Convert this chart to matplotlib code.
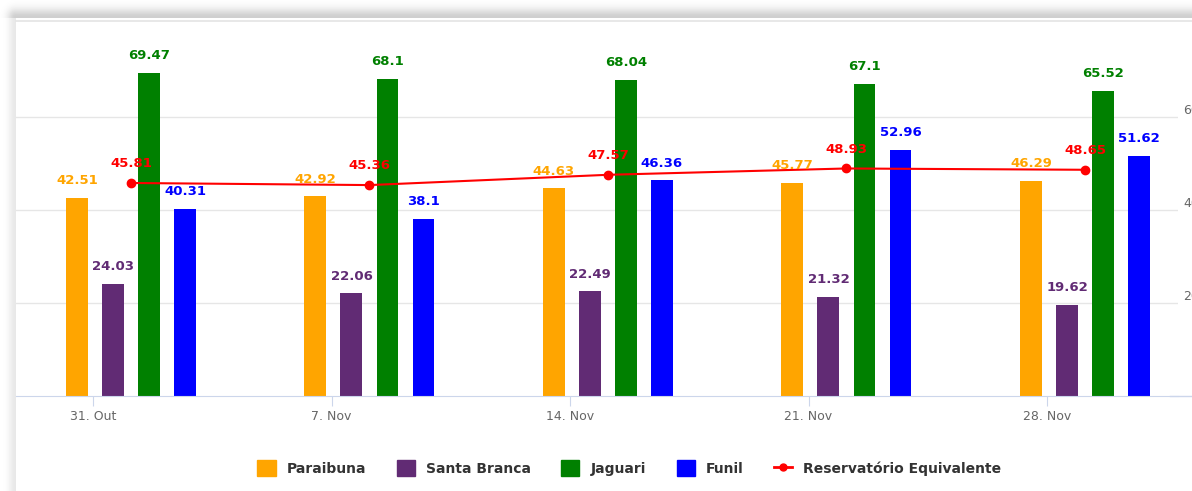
import numpy as np
import matplotlib.pyplot as plt
from matplotlib.patches import Patch
from matplotlib.lines import Line2D

# data
dates = ['31. Out', '7. Nov', '14. Nov', '21. Nov', '28. Nov']
paraibuna = [42.51, 42.92, 44.63, 45.77, 46.29]
santa_branca = [24.03, 22.06, 22.49, 21.32, 19.62]
jaguari = [69.47, 68.1, 68.04, 67.1, 65.52]
funil = [40.31, 38.1, 46.36, 52.96, 51.62]
equivalente = [45.81, 45.36, 47.57, 48.93, 48.65]

bar_series = [
    ('Paraibuna', paraibuna, '#FFA500'),
    ('Santa Branca', santa_branca, '#612B74'),
    ('Jaguari', jaguari, '#008000'),
    ('Funil', funil, '#0000FF'),
]
line_name = 'Reservatório Equivalente'
line_color = '#FF0000'

W, H = 1192, 491
fig = plt.figure(figsize=(W / 100, H / 100), dpi=100)

# card shadow in the background
bg = fig.add_axes([0, 0, 1, 1], zorder=0)
yy, xx = np.mgrid[0:H, 0:W].astype(float)
dy = np.clip(17 - yy, 0, None)
dx = np.clip(15 - xx, 0, None)
top = 0.19 * np.exp(-(dy / 9.0) ** 2) * np.exp(-(dx / 8.0) ** 2) * (yy < 18)
left = 0.09 * np.exp(-(dx / 7.0) ** 2) * np.exp(-(dy / 8.0) ** 2) * (xx < 16)
dark = np.maximum(top, left)
bg.imshow(1 - dark, cmap='gray', vmin=0, vmax=1, extent=(0, W, H, 0), aspect='auto')
bg.plot([16, W], [21, 21], color='#e4e4e4', lw=1.2)
# x axis line continues to the cropped edge
bg.plot([1170, W], [396, 396], color='#ccd6eb', lw=1)
bg.set_xlim(0, W)
bg.set_ylim(H, 0)
bg.axis('off')

ax = fig.add_axes([16 / W, 95 / H, 1162 / W, 372 / H], zorder=1)
ax.patch.set_alpha(0)

x = np.arange(len(dates))
pitch = 0.151
width = 0.092
for k, (name, vals, col) in enumerate(bar_series):
    xs = x + (k - 1.5) * pitch
    ax.bar(xs, vals, width=width, color=col, zorder=2)
    for xi, v in zip(xs, vals):
        ax.annotate(str(v), (xi, v), xytext=(0, 10), textcoords='offset points',
                    ha='center', va='baseline', fontsize=9.5, weight='bold',
                    color=col, zorder=5)

ax.plot(x, equivalente, color=line_color, lw=1.5, marker='o', ms=6, zorder=3)
for xi, v in zip(x, equivalente):
    ax.annotate(str(v), (xi, v), xytext=(0, 11.5), textcoords='offset points',
                ha='center', va='baseline', fontsize=9.5, weight='bold',
                color=line_color, zorder=5)

ax.set_xlim(-0.482, 4.39)
ax.set_ylim(0, 80)
ax.set_yticks([20, 40, 60])
ax.yaxis.grid(True, color='#e6e6e6', lw=1)
ax.set_axisbelow(True)
ax.tick_params(axis='y', length=0, labelleft=False)
for s in ['top', 'left', 'right']:
    ax.spines[s].set_visible(False)
ax.spines['bottom'].set_color('#ccd6eb')

ax.set_xticks(x - 0.159)
ax.set_xticklabels(dates, color='#666666', fontsize=9)
ax.tick_params(axis='x', length=7, color='#ccd6eb', pad=3)

# right axis labels (cut by the screenshot edge, as in the source)
for v in [20, 40, 60]:
    ax.annotate(str(v), xy=(1, v), xycoords=('axes fraction', 'data'),
                xytext=(4, 5), textcoords='offset points', ha='left',
                va='center', color='#666666', fontsize=9)

handles = [Patch(facecolor=c, edgecolor=c) for _, _, c in bar_series]
handles.append(Line2D([0], [0], color=line_color, lw=2, marker='o', ms=5))
labels = [n for n, _, _ in bar_series] + [line_name]
fig.legend(handles, labels, loc='center', bbox_to_anchor=(0.528, 23 / H),
           ncol=5, frameon=False, prop=dict(weight='bold', size=10),
           labelcolor='#333333', handlelength=1.3, handleheight=1.3,
           columnspacing=2.2, handletextpad=0.8)

fig.savefig('out.png', dpi=100)
